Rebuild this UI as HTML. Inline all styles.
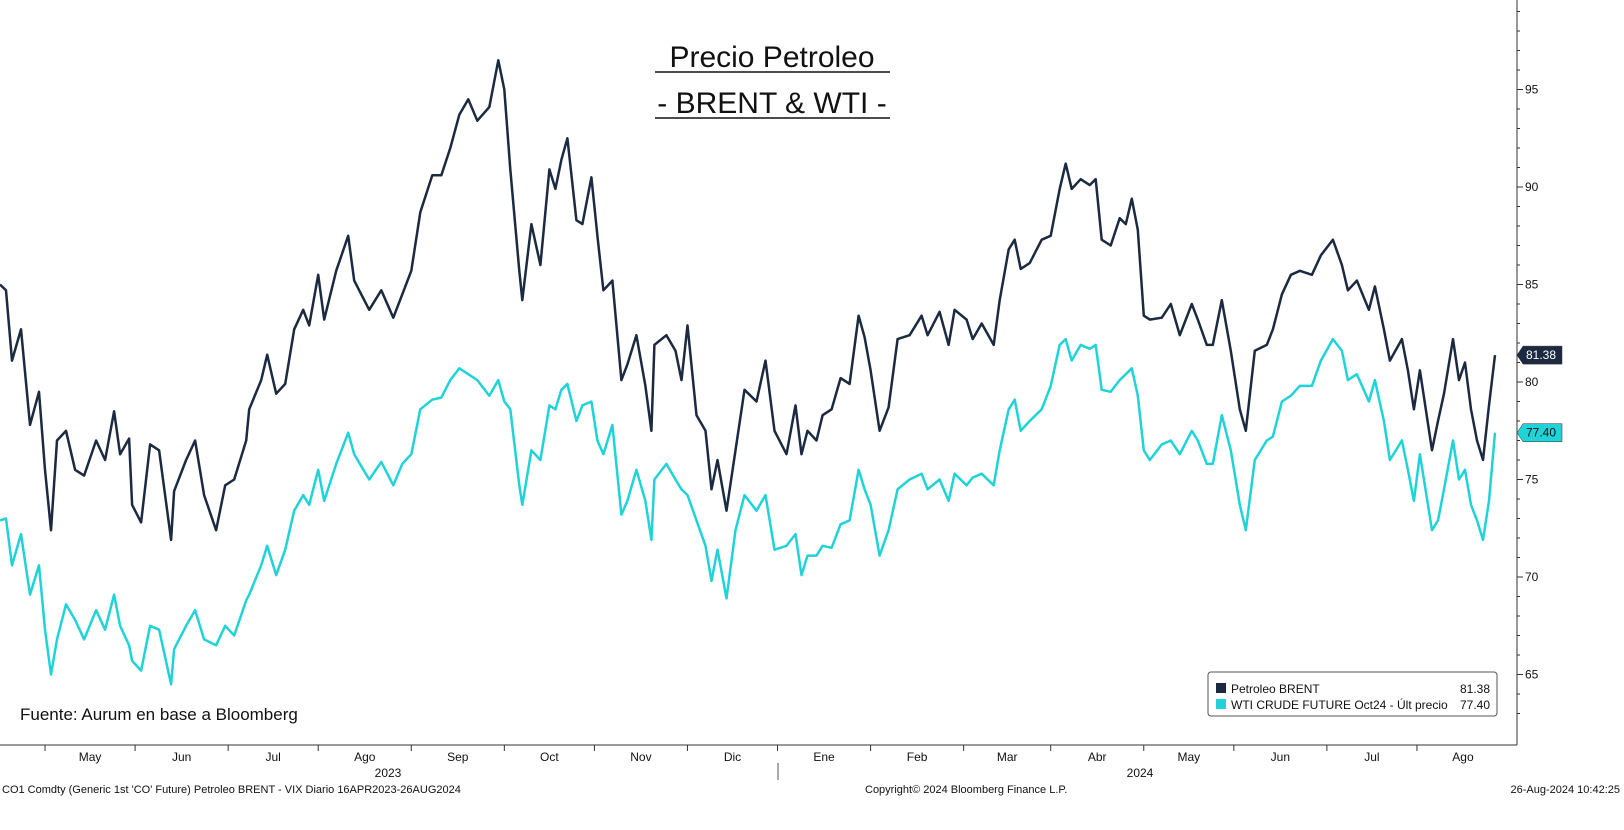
<!DOCTYPE html>
<html><head><meta charset="utf-8">
<style>
html,body{margin:0;padding:0;background:#fff;}
body{width:1624px;height:825px;overflow:hidden;font-family:"Liberation Sans",sans-serif;}
svg text{font-family:"Liberation Sans",sans-serif;}
</style></head>
<body>
<svg id="chart" width="1624" height="825" xmlns="http://www.w3.org/2000/svg">
<g id="axes"></g>
<g id="series"></g>
<g>
<text x="772" y="67" text-anchor="middle" font-size="30" fill="#111">Precio Petroleo</text>
<line x1="655" y1="72" x2="890" y2="72" stroke="#111" stroke-width="1.5"/>
<text x="772" y="113" text-anchor="middle" font-size="30" fill="#111">- BRENT &amp; WTI -</text>
<line x1="655" y1="118" x2="890" y2="118" stroke="#111" stroke-width="1.5"/>
</g>
<text x="20" y="720" font-size="17" fill="#111">Fuente: Aurum en base a Bloomberg</text>
<g>
<rect x="1208" y="672" width="289" height="44" rx="3" fill="#fff" stroke="#555"/>
<rect x="1216" y="683" width="10" height="10" fill="#1b2a41"/>
<text x="1231" y="693" font-size="12" fill="#111">Petroleo BRENT</text>
<text x="1490" y="693" font-size="12" fill="#111" text-anchor="end">81.38</text>
<rect x="1216" y="699" width="10" height="10" fill="#1fd3d8"/>
<text x="1231" y="709" font-size="12" fill="#111">WTI CRUDE FUTURE Oct24 - Últ precio</text>
<text x="1490" y="709" font-size="12" fill="#111" text-anchor="end">77.40</text>
</g>
<g font-size="11" fill="#111">
<text x="2" y="793">CO1 Comdty (Generic 1st 'CO' Future) Petroleo BRENT - VIX  Diario 16APR2023-26AUG2024</text>
<text x="865" y="793">Copyright© 2024 Bloomberg Finance L.P.</text>
<text x="1620" y="793" text-anchor="end">26-Aug-2024 10:42:25</text>
</g>
</svg>
<script>
const days=[0,2,4,7,10,13,15,17,19,22,25,28,32,35,38,40,43,44,47,50,53,57,58,62,65,68,72,75,78,82,83,87,89,92,95,98,101,103,106,108,112,116,118,123,127,131,134,137,140,144,147,150,153,156,159,163,166,168,170,173,174,177,180,183,185,187,189,192,194,197,199,201,204,207,209,212,215,217,218,222,225,227,229,232,235,237,239,242,245,248,252,255,258,262,265,267,269,272,274,277,280,283,286,288,290,293,296,299,303,307,309,313,316,318,322,324,327,331,333,336,338,340,343,347,350,353,355,357,360,363,365,367,370,373,375,377,379,381,383,387,390,393,397,399,402,404,407,410,413,415,418,422,424,427,430,433,437,440,444,447,449,452,456,458,461,463,467,469,471,473,477,479,481,484,486,488,490,492,494,496,498];
const brent=[85,84.7,81.1,82.7,77.8,79.5,75.5,72.4,77,77.5,75.5,75.2,77,76,78.5,76.3,77.1,73.7,72.8,76.8,76.5,71.9,74.4,76,77,74.2,72.4,74.7,75,77,78.6,80.1,81.4,79.4,79.9,82.7,83.7,82.9,85.5,83.2,85.7,87.5,85.2,83.7,84.7,83.3,84.5,85.7,88.7,90.6,90.6,92,93.7,94.5,93.4,94.1,96.5,95,90.9,85.7,84.2,88.1,86,90.9,89.9,91.4,92.5,88.3,88.1,90.5,87.5,84.7,85.2,80.1,80.9,82.4,79.8,77.5,81.9,82.4,81.6,80.1,82.9,78.3,77.5,74.5,76,73.4,76.5,79.6,79,81.1,77.5,76.3,78.8,76.3,77.5,77,78.3,78.6,80.2,79.9,83.4,82.3,80.6,77.5,78.7,82.2,82.4,83.4,82.4,83.6,81.9,83.7,83.2,82.2,83,81.9,84.2,86.8,87.3,85.8,86.1,87.3,87.5,89.9,91.2,89.9,90.4,90.1,90.4,87.3,87,88.4,88.1,89.4,87.8,83.4,83.2,83.3,84,82.4,84,83.2,81.9,81.9,84.2,81.6,78.6,77.5,81.6,81.9,82.7,84.5,85.5,85.7,85.5,86.5,87.3,86,84.7,85.2,83.7,84.9,82.7,81.1,82.2,80.6,78.6,80.6,76.5,78,79.4,82.2,80.1,81,78.6,77,76,78.8,81.38];
const wti=[72.9,73,70.6,72.2,69.1,70.6,67.3,65,66.8,68.6,67.8,66.8,68.3,67.3,69.1,67.5,66.5,65.7,65.2,67.5,67.3,64.5,66.3,67.5,68.3,66.8,66.5,67.5,67,68.8,69.1,70.6,71.6,70.1,71.4,73.4,74.2,73.7,75.5,73.9,75.8,77.4,76.3,75,75.9,74.7,75.8,76.3,78.6,79.1,79.2,80.1,80.7,80.4,80.1,79.3,80.1,79,78.6,74.7,73.7,76.5,76,78.8,78.6,79.6,79.9,78,78.8,79,77,76.3,77.8,73.2,73.9,75.5,73.9,71.9,75,75.8,75,74.5,74.2,72.9,71.6,69.8,71.4,68.9,72.4,74.2,73.4,74.2,71.4,71.6,72.2,70.1,71.1,71.1,71.6,71.5,72.7,72.9,75.5,74.5,73.7,71.1,72.4,74.5,75,75.3,74.5,75,73.9,75.3,74.7,75.1,75.3,74.7,76.5,78.6,79.1,77.5,78,78.6,79.8,81.9,82.2,81.1,81.9,81.7,81.9,79.6,79.5,80.1,80.4,80.7,79.3,76.5,76,76.8,77,76.3,77.5,77,75.8,75.8,78.3,76.5,73.7,72.4,76,77,77.2,79,79.3,79.8,79.8,81.1,82.2,81.6,80.1,80.4,79,80.1,78,76,77,75.5,73.9,76.3,72.4,72.9,74.5,77,75,75.5,73.7,72.9,71.9,73.9,77.4];
const yTicks=[65,70,75,80,85,90,95];
const months=["May","Jun","Jul","Ago","Sep","Oct","Nov","Dic","Ene","Feb","Mar","Abr","May","Jun","Jul","Ago"];
const monthStartDays=[15,45,76,106,137,168,198,229,259,290,321,350,381,411,442,472];
const years=["2023","2024"];

const NS="http://www.w3.org/2000/svg";
const xS=d=>d*1495/498;
const yS=v=>382-(v-80)*19.5;
function mk(tag,attrs,parent){const e=document.createElementNS(NS,tag);for(const k in attrs)e.setAttribute(k,attrs[k]);parent.appendChild(e);return e;}
const axes=document.getElementById('axes'), ser=document.getElementById('series');

const ya=mk('line',{x1:1517,y1:0,x2:1517,y2:745,stroke:'#333','stroke-width':1},axes);


const xa=mk('line',{x1:0,y1:745,x2:1517,y2:745,stroke:'#333','stroke-width':1},axes);


for(let v=63;v<=99;v++){const y=yS(v);mk('line',{x1:1517,y1:y,x2:v%5==0?1523:1520,y2:y,stroke:'#333'},axes);}
yTicks.forEach(v=>{const t=mk('text',{x:1525,y:yS(v)+4,'font-size':12,fill:'#111'},axes);t.textContent=v;

});
monthStartDays.forEach((d,i)=>{const x=xS(d);mk('line',{x1:x,y1:745,x2:x,y2:751,stroke:'#333'},axes);
const nx=i<monthStartDays.length-1?xS(monthStartDays[i+1]):x+92;
const t=mk('text',{x:(x+nx)/2,y:761,'font-size':12,fill:'#111','text-anchor':'middle'},axes);t.textContent=months[i];

});
[[388,years[0]],[1140,years[1]]].forEach(([x,s])=>{const t=mk('text',{x:x,y:777,'font-size':12,fill:'#111','text-anchor':'middle'},axes);t.textContent=s;

});
mk('line',{x1:778,y1:763,x2:778,y2:780,stroke:'#555'},axes);

function line(vals,color,name){const n=Math.min(days.length,vals.length);let p='';for(let i=0;i<n;i++)p+=(i?'L':'M')+xS(days[i]).toFixed(1)+','+yS(vals[i]).toFixed(1);
const e=mk('path',{d:p,fill:'none',stroke:color,'stroke-width':2.5,'stroke-linejoin':'round'},ser);

}
line(wti,'#1fd3d8','wti-line');
line(brent,'#1b2a41','brent-line');

function tag(v,bg,fg,name){const y=yS(v);
const g=mk('g',{},ser);


mk('path',{d:`M1517,${y}L1523,${y-9}H1562V${y+9}H1523Z`,fill:bg,stroke:'#333','stroke-width':0.5},g);
const t=mk('text',{x:1526,y:y+4,'font-size':12,fill:fg},g);t.textContent=v.toFixed(2);}
tag(brent[brent.length-1],'#1b2a41','#fff','brent-last-tag');
tag(wti[wti.length-1],'#1fd3d8','#111','wti-last-tag');
</script>
</body></html>
